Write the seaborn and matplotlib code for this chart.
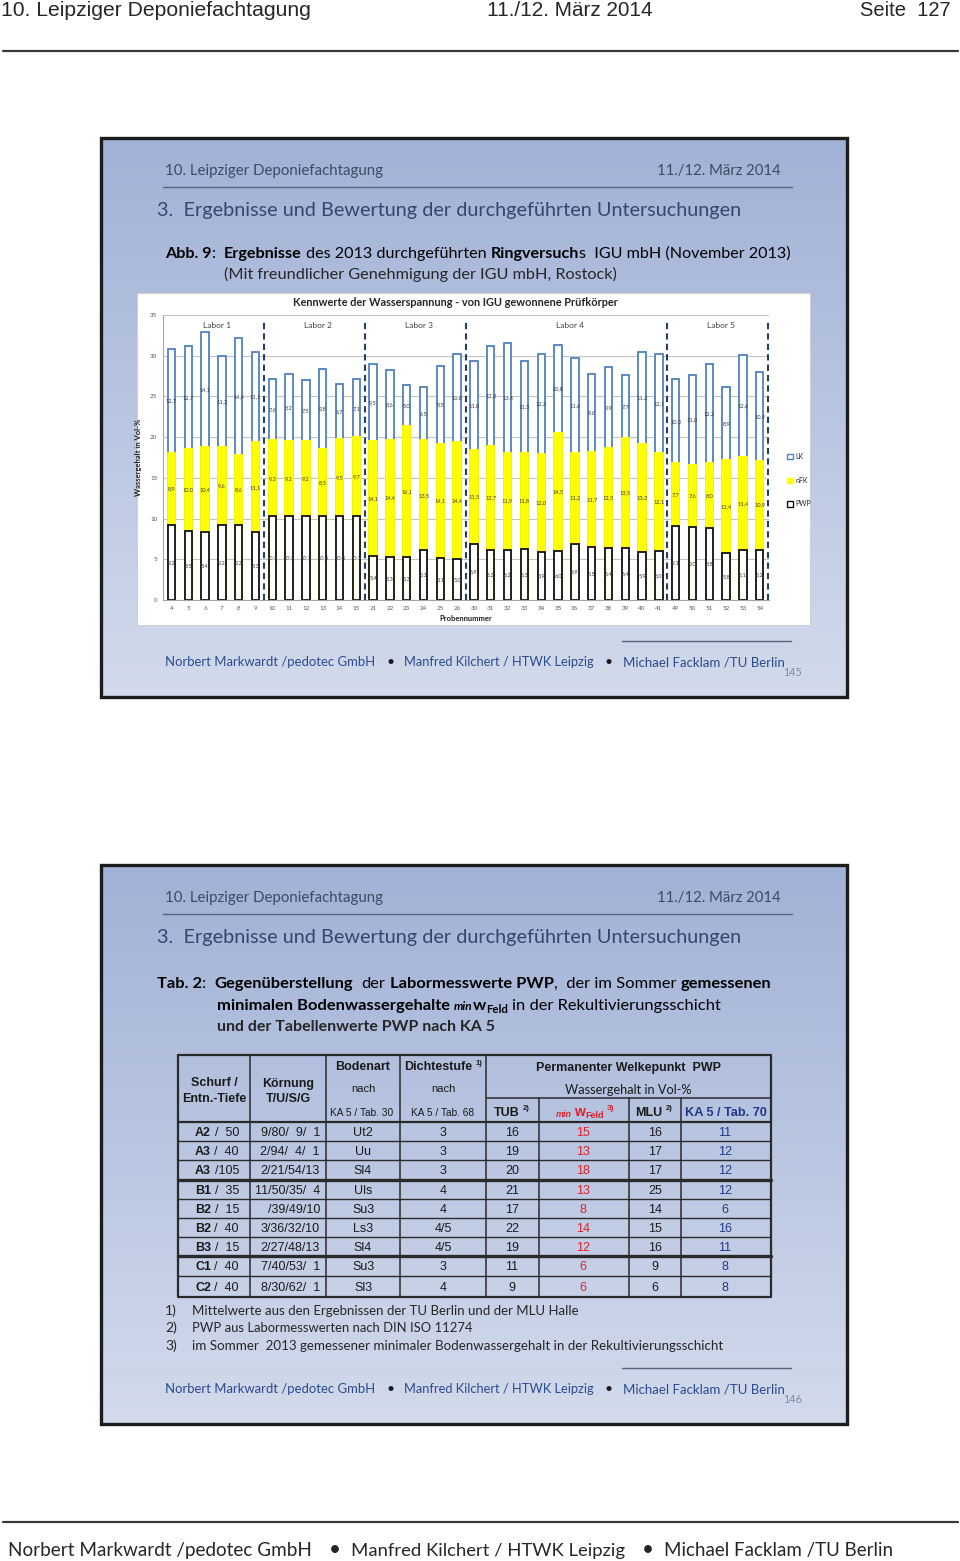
import numpy as np
import pandas as pd
import matplotlib
matplotlib.use("Agg")
import matplotlib.pyplot as plt
import seaborn as sns
from matplotlib.patches import Rectangle, Patch

# ---------------- data ----------------
samples = ["4", "5", "6", "7", "8", "9", "10", "11", "12", "13", "14", "15",
           "21", "22", "23", "24", "25", "26", "30", "31", "32", "33", "34", "35",
           "36", "37", "38", "39", "40", "41", "49", "50", "51", "52", "53", "54"]
labs = ["Labor 1"] * 6 + ["Labor 2"] * 6 + ["Labor 3"] * 6 + ["Labor 4"] * 12 + ["Labor 5"] * 6
pwp = [9.2, 8.5, 8.4, 9.2, 9.2, 8.3,
       10.3, 10.3, 10.3, 10.3, 10.3, 10.3,
       5.4, 5.3, 5.3, 6.1, 5.1, 5.0,
       6.9, 6.2, 6.2, 6.3, 5.9, 6.0, 6.9, 6.5, 6.4, 6.4, 5.9, 6.0,
       9.1, 9.0, 8.8, 5.8, 6.1, 6.2]
nfk = [8.9, 10.0, 10.4, 9.6, 8.6, 11.1,
       9.3, 9.2, 9.2, 8.3, 9.5, 9.7,
       14.1, 14.4, 16.1, 13.5, 14.1, 14.4,
       11.5, 12.7, 11.9, 11.8, 12.0, 14.5, 11.2, 11.7, 12.3, 13.5, 13.3, 12.1,
       7.7, 7.6, 8.0, 11.4, 11.4, 10.9]
lk = [12.7, 12.7, 14.1, 11.2, 14.4, 11.1,
      7.6, 8.2, 7.5, 9.8, 6.7, 7.1,
      9.5, 8.6, 5.0, 6.5, 9.5, 10.8,
      11.0, 12.3, 13.4, 11.3, 12.3, 10.8, 11.6, 9.6, 9.9, 7.7, 11.2, 12.1,
      10.3, 11.0, 12.2, 8.9, 12.6, 10.9]
series_names = ["LK", "nFK", "PWP"]
yticks = [0, 5, 10, 15, 20, 25, 30, 35]

tab_schurf_id = ["A2", "A3", "A3", "B1", "B2", "B2", "B3", "C1", "C2"]
tab_schurf_depth = ["/  50", "/  40", "/105", "/  35", "/  15", "/  40", "/  15", "/  40", "/  40"]
tab_koernung = ["9/80/  9/  1", "2/94/  4/  1", "2/21/54/13", "11/50/35/  4", "/39/49/10",
                "3/36/32/10", "2/27/48/13", "7/40/53/  1", "8/30/62/  1"]
tab_bodenart = ["Ut2", "Uu", "Sl4", "Uls", "Su3", "Ls3", "Sl4", "Su3", "Sl3"]
tab_dichte = ["3", "3", "3", "4", "4", "4/5", "4/5", "3", "4"]
tab_tub = [16, 19, 20, 21, 17, 22, 19, 11, 9]
tab_minw = [15, 13, 18, 13, 8, 14, 12, 6, 6]
tab_mlu = [16, 17, 17, 25, 14, 15, 16, 9, 6]
tab_ka5 = [11, 12, 12, 12, 6, 16, 11, 8, 8]

footnotes = ["Mittelwerte aus den Ergebnissen der TU Berlin und der MLU Halle",
             "PWP aus Labormesswerten nach DIN ISO 11274",
             "im Sommer  2013 gemessener minimaler Bodenwassergehalt in der Rekultivierungsschicht"]

# ---------------- setup ----------------
sns.set_style("white")
SANS = ["Lato", "DejaVu Sans"]
ARIAL = ["Liberation Sans", "DejaVu Sans"]
plt.rcParams["font.family"] = SANS

W, H = 960, 1561
fig = plt.figure(figsize=(W / 100, H / 100), dpi=100)
fig.patch.set_facecolor("white")
ov = fig.add_axes([0, 0, 1, 1], zorder=0)
ov.axis("off")
R = fig.canvas.get_renderer()


def reset_lims():
    ov.set_xlim(0, W)
    ov.set_ylim(H, 0)


reset_lims()


def seg_width(s, size, **kw):
    t1 = ov.text(0, 0, "|" + s + "|", fontsize=size, **kw)
    a = t1.get_window_extent(R).width
    t1.remove()
    t2 = ov.text(0, 0, "||", fontsize=size, **kw)
    b = t2.get_window_extent(R).width
    t2.remove()
    return a - b


def txt(x, y, s, size, w=None, ha="left", va="baseline", family=SANS, **kw):
    t = ov.text(x, y, s, fontsize=size, ha=ha, va=va, family=family, **kw)
    if w:
        bb = t.get_window_extent(R)
        t.set_fontsize(size * w / bb.width)
    return t


def rich(x, y, parts, size, w=None, family=SANS, color="black"):
    def props(o):
        return dict(family=family, weight=o.get("weight", "normal"),
                    style=o.get("style", "normal"))

    def total(sz):
        return sum(seg_width(p, sz * o.get("scale", 1), **props(o)) for p, o in parts)

    if w:
        size = size * w / total(size)
    cx = x
    for p, o in parts:
        sz = size * o.get("scale", 1)
        kw = props(o)
        lead = len(p) - len(p.lstrip())
        off = seg_width(" " * lead, sz, **kw) if lead else 0
        ov.text(cx + off, y + o.get("dy", 0), p.strip(), fontsize=sz,
                color=o.get("color", color), ha="left", va="baseline", **kw)
        cx += seg_width(p, sz, **kw)
    return size


B = {"weight": "bold"}
N = {}

# ---------------- page header / footer ----------------
txt(1, 16, "10. Leipziger Deponiefachtagung", 15, w=312, family=ARIAL)
txt(487, 16, "11./12. März 2014", 15, w=166, family=ARIAL)
txt(951, 16, "Seite  127", 15, w=91, ha="right", family=ARIAL)
ov.plot([3, 958], [51, 51], color="#3a3a3a", lw=1.6)

ov.plot([3, 958], [1522, 1522], color="#3a3a3a", lw=1.6)
txt(8, 1556, "Norbert Markwardt /pedotec GmbH", 15, w=304)
txt(335, 1556, "•", 15, ha="center")
txt(351, 1556, "Manfred Kilchert / HTWK Leipzig", 15, w=273)
txt(648, 1556, "•", 15, ha="center")
txt(664, 1556, "Michael Facklam /TU Berlin", 15, w=229)

# ---------------- slides ----------------
TOP = np.array([0.630, 0.698, 0.842])
BOT = np.array([0.825, 0.855, 0.925])
HEADC = "#3e4a66"
TITLEC = "#35456e"
FOOTC = "#2b4b8e"


def slide(off, number):
    x0, x1, y0, y1 = 101, 847, 138 + off, 697 + off
    t = np.linspace(0, 1, 256)[:, None]
    grad = (TOP * (1 - t) + BOT * t)[:, None, :]
    ov.imshow(grad, extent=[x0, x1, y1, y0], aspect="auto", zorder=0,
              interpolation="bilinear")
    reset_lims()
    ov.add_patch(Rectangle((x0, y0), x1 - x0, y1 - y0, fill=False, ec="#1c1c1c",
                           lw=2.4, zorder=5))
    txt(165, 175 + off, "10. Leipziger Deponiefachtagung", 11, w=217, color=HEADC)
    txt(781, 175 + off, "11./12. März 2014", 11, w=124, ha="right", color=HEADC)
    ov.plot([163, 792], [187 + off, 187 + off], color="#56627f", lw=1.0)
    txt(157, 216 + off, "3.  Ergebnisse und Bewertung der durchgeführten Untersuchungen",
        16, w=589, color=TITLEC)
    ov.plot([622, 791], [641 + off, 641 + off], color="#56627f", lw=1.0)
    txt(165, 666 + off, "Norbert Markwardt /pedotec GmbH", 10, w=212, color=FOOTC)
    txt(391, 666 + off, "•", 10, ha="center", color="#1a1a2a")
    txt(404, 666 + off, "Manfred Kilchert / HTWK Leipzig", 10, w=191, color=FOOTC)
    txt(609, 666 + off, "•", 10, ha="center", color="#1a1a2a")
    txt(623, 666 + off, "Michael Facklam /TU Berlin", 10, w=161, color=FOOTC)
    txt(793, 676 + off, number, 7, w=19, ha="center", color="#7d8cae")


slide(0, "145")
slide(727, "146")

# slide 1 caption
rich(165, 258, [("Abb. 9", B), (":  ", N), ("Ergebnisse", B),
                (" des 2013 durchgeführten ", N), ("Ringversuch", B),
                ("s  IGU mbH (November 2013)", N)], 12, w=623)
txt(224, 279, "(Mit freundlicher Genehmigung der IGU mbH, Rostock)", 12, w=393)

# chart panel
ov.add_patch(Rectangle((137, 293), 673, 332, fc="white", ec="#d0d0d0", lw=0.8, zorder=1))
txt(455, 306, "Kennwerte der Wasserspannung - von IGU gewonnene Prüfkörper", 8,
    w=327, ha="center", weight="bold", zorder=6)

# ---------------- bar chart (seaborn) ----------------
df = pd.DataFrame({"Probe": samples, "Labor": labs, "PWP": pwp, "nFK": nfk, "LK": lk})
df["top_nfk"] = df["PWP"] + df["nFK"]
df["top_lk"] = df["top_nfk"] + df["LK"]

ax = fig.add_axes([163 / W, 1 - 600 / H, 606 / W, 285 / H], zorder=2)
ax.set_facecolor("white")
kw = dict(data=df, x="Probe", order=samples, width=0.44, saturation=1,
          errorbar=None, ax=ax, linewidth=1.3)
sns.barplot(y="top_lk", color="white", edgecolor="#4f81bd", **kw)
sns.barplot(y="top_nfk", color="#ffff00", edgecolor="#ffff00", **kw)
sns.barplot(y="PWP", color="white", edgecolor="#111111", **kw)


def fmt(v):
    return f"{v:.1f}".replace(".", ",")


for i, (p, n, l) in enumerate(zip(pwp, nfk, lk)):
    for val, mid in ((p, p / 2), (n, p + n / 2), (l, p + n + l / 2)):
        ax.text(i, mid, fmt(val), ha="center", va="center", fontsize=4.1,
                color="#3a3a3a", zorder=5)

ax.set_ylim(0, 35)
ax.set_xlim(-0.5, 35.55)
ax.set_yticks(yticks)
ax.grid(axis="y", color="#c4c4c4", lw=0.8)
ax.set_axisbelow(True)
for s in ("top", "right"):
    ax.spines[s].set_visible(False)
for s in ("left", "bottom"):
    ax.spines[s].set_color("#a6a6a6")
    ax.spines[s].set_linewidth(0.8)
ax.tick_params(axis="both", labelsize=4.5, colors="#595959", length=0, pad=4)
ax.set_xlabel("Probennummer", fontsize=5.5, weight="bold", labelpad=3, color="#222222")
ax.set_ylabel("Wassergehalt in Vol-%", fontsize=5.5, weight="bold", labelpad=6,
              color="#222222")

bounds = [i + 0.5 for i in range(len(labs) - 1) if labs[i] != labs[i + 1]] + [len(labs) - 0.5]
for b in bounds:
    ax.axvline(b, ymin=0, ymax=0.985, color="#243f60", lw=1.5, ls=(0, (3, 2)),
               clip_on=False, zorder=4)
for lab in dict.fromkeys(labs):
    idx = [i for i, l in enumerate(labs) if l == lab]
    ax.text(np.mean(idx) + 0.2, 33.7, lab, ha="center", va="center", fontsize=6,
            color="#404040")

handles = [Patch(fc="white", ec="#4f81bd", lw=1, label=series_names[0]),
           Patch(fc="#ffff00", ec="#ffff00", lw=1, label=series_names[1]),
           Patch(fc="white", ec="#111111", lw=1, label=series_names[2])]
ax.legend(handles=handles, loc="center left", bbox_to_anchor=(1.02, 0.42),
          frameon=False, fontsize=5, handlelength=0.8, handleheight=0.8,
          handletextpad=0.3, labelspacing=2.4)

# ---------------- slide 2 caption ----------------
rich(157, 988, [("Tab. 2", B), (":  ", N), ("Gegenüberstellung", B), ("  der ", N),
                ("Labormesswerte PWP", B), (",  der im Sommer ", N), ("gemessenen", B)],
     12, w=611)
rich(217, 1010, [("minimalen Bodenwassergehalte ", B),
                 ("min", {"weight": "bold", "style": "italic", "scale": 0.72}),
                 ("w", B), ("Feld", {"weight": "bold", "scale": 0.7, "dy": 3}),
                 (" in der Rekultivierungsschicht", N)], 12, w=501)
txt(217, 1031, "und der Tabellenwerte PWP nach KA 5", 12, w=278, weight="bold")

# ---------------- table ----------------
LC = "#2a2a2a"
tx0, tx1 = 178, 771
ty0, tsub, thead, tbot = 1055, 1098, 1122, 1297
vfull = [250, 326, 400, 486]
vpart = [539, 629, 681]
hlines = [1141, 1160, 1180, 1199, 1218, 1237, 1256, 1276]
thick = {1180, 1256}

ov.plot([tx0, tx1, tx1, tx0, tx0], [ty0, ty0, tbot, tbot, ty0], color=LC, lw=1.6)
for x in vfull:
    ov.plot([x, x], [ty0, tbot], color=LC, lw=1.1)
for x in vpart:
    ov.plot([x, x], [tsub, tbot], color=LC, lw=1.1)
ov.plot([486, tx1], [tsub, tsub], color=LC, lw=1.1)
ov.plot([tx0, tx1], [thead, thead], color=LC, lw=1.6)
for y in hlines:
    ov.plot([tx0, tx1], [y, y], color=LC, lw=2.4 if y in thick else 1.0)

TC = "#1a1a1a"
RED = "#e3202a"
BLUE = "#1f3a87"
fs = 9


def ctext(x, y, s, size=fs, **k):
    k.setdefault("color", TC)
    return ov.text(x, y + 1.5, s, fontsize=size, ha=k.pop("ha", "center"), va="center",
                   family=ARIAL, **k)


ctext(214, 1082, "Schurf /", weight="bold")
ctext(214, 1097, "Entn.-Tiefe", weight="bold")
ctext(288, 1082, "Körnung", weight="bold")
ctext(288, 1097, "T/U/S/G", weight="bold")
ctext(363, 1066, "Bodenart", weight="bold")
ctext(363, 1088, "nach", size=8)
ctext(361.5, 1111, "KA 5 / Tab. 30", size=7.3)
ctext(438, 1066, "Dichtestufe", weight="bold")
ctext(479, 1062, "1)", size=5.5, weight="bold")
ctext(443, 1088, "nach", size=8)
ctext(442.5, 1111, "KA 5 / Tab. 68", size=7.3)
ctext(628, 1066, "Permanenter Welkepunkt  PWP", weight="bold")
ov.text(628, 1089.5, "Wassergehalt in Vol-%", fontsize=9.2, ha="center", va="center",
        family=SANS, color=TC)
ctext(507, 1111, "TUB", weight="bold")
ctext(526, 1107, "2)", size=5.5, weight="bold")
ctext(564, 1113, "min", size=6.5, weight="bold", style="italic", color=RED)
ctext(579, 1111, "w", size=10, weight="bold", color=RED)
ctext(595, 1114, "Feld", size=6.5, weight="bold", color=RED)
ctext(611, 1107, "3)", size=6, weight="bold", color=RED)
ctext(649, 1111, "MLU", weight="bold")
ctext(669, 1107, "2)", size=5.5, weight="bold")
ctext(725.5, 1111, "KA 5 / Tab. 70", size=9.2, weight="bold", color=BLUE)

edges = [thead] + hlines + [tbot]
centers = [(a + b) / 2 for a, b in zip(edges[:-1], edges[1:])]
for r, yc in enumerate(centers):
    ctext(195, yc, tab_schurf_id[r], weight="bold", ha="left")
    ctext(239, yc, tab_schurf_depth[r], ha="right")
    ctext(320, yc, tab_koernung[r], ha="right")
    ctext(363, yc, tab_bodenart[r])
    ctext(443, yc, tab_dichte[r])
    ctext(512, yc, str(tab_tub[r]))
    ctext(583, yc, str(tab_minw[r]), color=RED)
    ctext(655, yc, str(tab_mlu[r]))
    ctext(725, yc, str(tab_ka5[r]), color=BLUE)

# footnotes
fn_w = [388, 280, 532]
for k, (note, wdt) in enumerate(zip(footnotes, fn_w)):
    yb = 1315 + k * 17.5
    txt(165, yb, f"{k + 1})", 10)
    txt(192, yb, note, 10, w=wdt)

fig.savefig("out.png", dpi=100)
